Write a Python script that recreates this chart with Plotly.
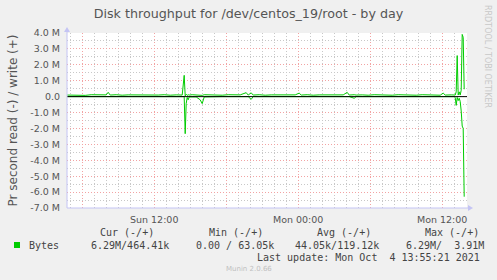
import plotly.graph_objects as go

# ---------------- data ----------------
times = [
    "2021-10-03 04:45", "2021-10-03 05:15", "2021-10-03 05:45", "2021-10-03 06:15",
    "2021-10-03 06:45", "2021-10-03 07:15", "2021-10-03 07:45", "2021-10-03 08:00",
    "2021-10-03 08:10", "2021-10-03 08:20", "2021-10-03 08:50", "2021-10-03 09:20",
    "2021-10-03 09:50", "2021-10-03 10:20", "2021-10-03 10:50", "2021-10-03 11:20",
    "2021-10-03 11:50", "2021-10-03 12:20", "2021-10-03 12:50", "2021-10-03 13:20",
    "2021-10-03 13:50", "2021-10-03 14:20", "2021-10-03 14:30", "2021-10-03 14:35",
    "2021-10-03 14:40", "2021-10-03 14:45", "2021-10-03 14:50", "2021-10-03 14:55",
    "2021-10-03 15:10", "2021-10-03 15:30", "2021-10-03 15:50", "2021-10-03 16:00",
    "2021-10-03 16:10", "2021-10-03 16:40", "2021-10-03 17:10", "2021-10-03 17:40",
    "2021-10-03 18:10", "2021-10-03 18:40", "2021-10-03 19:10", "2021-10-03 19:40",
    "2021-10-03 19:50", "2021-10-03 20:05", "2021-10-03 20:15", "2021-10-03 20:45",
    "2021-10-03 21:15", "2021-10-03 21:45", "2021-10-03 22:15", "2021-10-03 22:45",
    "2021-10-03 23:15", "2021-10-03 23:45",
    "2021-10-04 00:05", "2021-10-04 00:15", "2021-10-04 00:45", "2021-10-04 01:15",
    "2021-10-04 01:45", "2021-10-04 02:15", "2021-10-04 02:45", "2021-10-04 03:15",
    "2021-10-04 03:45", "2021-10-04 04:05", "2021-10-04 04:15", "2021-10-04 04:40",
    "2021-10-04 04:50", "2021-10-04 05:20", "2021-10-04 05:50", "2021-10-04 06:20",
    "2021-10-04 06:50", "2021-10-04 07:20", "2021-10-04 07:50", "2021-10-04 08:20",
    "2021-10-04 08:50", "2021-10-04 09:20", "2021-10-04 09:50", "2021-10-04 10:20",
    "2021-10-04 10:50", "2021-10-04 11:20", "2021-10-04 11:50", "2021-10-04 12:05",
    "2021-10-04 12:15", "2021-10-04 12:45", "2021-10-04 13:00", "2021-10-04 13:05",
    "2021-10-04 13:10", "2021-10-04 13:15", "2021-10-04 13:20", "2021-10-04 13:25",
    "2021-10-04 13:30", "2021-10-04 13:35", "2021-10-04 13:40", "2021-10-04 13:45",
    "2021-10-04 13:50",
]

# write bytes per second (M)
write_m = [
    0.10, 0.09, 0.11, 0.08, 0.12, 0.10, 0.09, 0.11,
    0.27, 0.10, 0.12, 0.09, 0.11, 0.10, 0.12, 0.09,
    0.11, 0.10, 0.12, 0.09, 0.11, 0.10, 1.34, 0.05,
    0.15, 0.08, 0.12, 0.10, 0.12, 0.09, 0.10, 0.08,
    0.12, 0.10, 0.11, 0.09, 0.12, 0.10, 0.11, 0.25,
    0.10, 0.24, 0.10, 0.12, 0.09, 0.11, 0.10, 0.12,
    0.09, 0.11,
    0.22, 0.10, 0.12, 0.09, 0.11, 0.10, 0.12, 0.09,
    0.11, 0.27, 0.10, 0.12, 0.10, 0.11, 0.09, 0.12,
    0.10, 0.11, 0.09, 0.12, 0.10, 0.11, 0.09, 0.12,
    0.10, 0.11, 0.09, 0.22, 0.10, 0.11, 0.10, 0.10,
    0.30, 2.58, 0.10, 0.30, 0.10, 0.40, 3.91, 3.73,
    0.464,
]

# read bytes per second (M), drawn downward
read_m = [
    0.00, 0.00, 0.00, 0.00, 0.00, 0.00, 0.00, 0.00,
    0.00, 0.00, 0.02, 0.00, 0.00, 0.00, 0.00, 0.00,
    0.00, 0.00, 0.00, 0.00, 0.00, 0.00, 0.00, 2.33,
    0.44, 0.05, 0.20, 0.02, 0.00, 0.02, 0.20, 0.44,
    0.02, 0.00, 0.00, 0.00, 0.00, 0.00, 0.00, 0.00,
    0.00, 0.17, 0.00, 0.00, 0.00, 0.00, 0.00, 0.00,
    0.00, 0.00,
    0.00, 0.00, 0.00, 0.00, 0.00, 0.00, 0.00, 0.00,
    0.00, 0.00, 0.00, 0.10, 0.00, 0.00, 0.00, 0.00,
    0.00, 0.00, 0.00, 0.00, 0.00, 0.00, 0.00, 0.00,
    0.00, 0.00, 0.00, 0.00, 0.00, 0.00, 0.00, 0.05,
    0.55, 0.05, 0.25, 0.10, 0.30, 0.90, 1.85, 2.00,
    6.29,
]

x_tick_vals = ["2021-10-03 06:00", "2021-10-03 12:00", "2021-10-03 18:00",
               "2021-10-04 00:00", "2021-10-04 06:00", "2021-10-04 12:00"]
x_tick_text = ["", "Sun 12:00", "", "Mon 00:00", "", "Mon 12:00"]

y_tick_vals = [4, 3, 2, 1, 0, -1, -2, -3, -4, -5, -6, -7]
y_tick_text = ["4.0 M", "3.0 M", "2.0 M", "1.0 M", "0.0", "-1.0 M", "-2.0 M",
               "-3.0 M", "-4.0 M", "-5.0 M", "-6.0 M", "-7.0 M"]

legend_headers = ["Cur (-/+)", "Min (-/+)", "Avg (-/+)", "Max (-/+)"]
legend_name = "Bytes"
legend_values = ["6.29M/464.41k", "0.00 / 63.05k", "44.05k/119.12k", "6.29M/  3.91M"]
last_update = "Last update: Mon Oct  4 13:55:21 2021"

# ---------------- figure ----------------
W, H = 497, 280
L, R, T, B = 67, 30, 33, 72
PW, PH = W - L - R, H - T - B

def px(x):
    return (x - L) / PW

def py(y):
    return (H - B - y) / PH

GREEN = "#00CC00"
fig = go.Figure()
fig.add_trace(go.Scatter(x=times, y=[-v for v in read_m], mode="lines",
                         line=dict(color=GREEN, width=1), showlegend=False,
                         hoverinfo="skip"))
fig.add_trace(go.Scatter(x=times, y=write_m, mode="lines",
                         line=dict(color=GREEN, width=1), showlegend=False,
                         hoverinfo="skip"))

MAJ = "#F2A3A3"
MIN = "#C8C8C8"
AX = "#C4C4F4"

fig.update_layout(
    width=W, height=H,
    margin=dict(l=L, r=R, t=T, b=B, pad=0),
    paper_bgcolor="#F0F0F0",
    plot_bgcolor="#FFFFFF",
    font=dict(family="DejaVu Sans", color="#555555"),
    title=dict(text="Disk throughput for /dev/centos_19/root - by day",
               x=0.5, xref="container", xanchor="center",
               y=1 - 13.5 / H, yref="container", yanchor="middle",
               font=dict(size=12.7, color="#555555", family="DejaVu Sans")),
    xaxis=dict(
        type="date",
        range=["2021-10-03 04:44", "2021-10-04 14:04"],
        tickmode="array", tickvals=x_tick_vals, ticktext=x_tick_text,
        showgrid=True, gridcolor=MAJ, gridwidth=1, griddash="1px,2px",
        minor=dict(dtick=3600000, tick0="2021-10-03 00:00", showgrid=True,
                   gridcolor=MIN, gridwidth=1, griddash="1px,2px"),
        ticks="", showline=False, zeroline=False,
        tickfont=dict(size=9.5, color="#555555"),
        ticklabelstandoff=4,
        fixedrange=True,
    ),
    yaxis=dict(
        range=[-7, 4],
        tickmode="array", tickvals=y_tick_vals, ticktext=y_tick_text,
        showgrid=True, gridcolor=MAJ, gridwidth=1, griddash="1px,2px",
        minor=dict(dtick=0.5, tick0=0, showgrid=True,
                   gridcolor=MIN, gridwidth=1, griddash="1px,2px"),
        ticks="", showline=False, zeroline=False,
        tickfont=dict(size=9.5, color="#555555"),
        ticklabelstandoff=6,
        title=dict(text="Pr second read (-) / write (+)", standoff=10,
                   font=dict(size=12, color="#555555")),
        fixedrange=True,
    ),
)

shapes = []
# zero rule on top
shapes.append(dict(type="line", xref="paper", yref="y", x0=0, x1=1, y0=0, y1=0,
                   line=dict(color="#000000", width=1), layer="above"))
# axis lines with arrows
shapes.append(dict(type="line", xref="paper", yref="paper", x0=0, x1=0,
                   y0=0, y1=py(29), line=dict(color=AX, width=1), layer="above"))
shapes.append(dict(type="line", xref="paper", yref="paper", x0=0, x1=px(471),
                   y0=0, y1=0, line=dict(color=AX, width=1), layer="above"))
shapes.append(dict(type="path", xref="paper", yref="paper",
                   path=f"M {px(64)} {py(32)} L {px(70)} {py(32)} L {px(67)} {py(27)} Z",
                   fillcolor=AX, line=dict(width=0), layer="above"))
shapes.append(dict(type="path", xref="paper", yref="paper",
                   path=f"M {px(468)} {py(205)} L {px(468)} {py(211)} L {px(473)} {py(208)} Z",
                   fillcolor=AX, line=dict(width=0), layer="above"))
# legend colour box
shapes.append(dict(type="rect", xref="paper", yref="paper",
                   x0=px(14), x1=px(20), y0=py(248), y1=py(242),
                   fillcolor=GREEN, line=dict(width=0)))
fig.update_layout(shapes=shapes)

MONO = dict(family="DejaVu Sans Mono", size=10, color="#444444")

def nb(s):
    return s.replace(" ", "\u00a0")

ann = []
def add_text(text, x, y, xanchor="left", font=MONO, angle=0):
    ann.append(dict(text=nb(text), x=px(x), y=py(y), xref="paper", yref="paper",
                    xanchor=xanchor, yanchor="middle", showarrow=False,
                    font=font, textangle=angle))

header_x = [98, 207, 315, 423]
for t, xx in zip(legend_headers, header_x):
    add_text(t, xx, 232.5)
add_text(legend_name, 27, 245)
value_x = [89, 194, 293, 404]
for t, xx in zip(legend_values, value_x):
    add_text(t, xx, 245)
add_text(last_update, 482, 257, xanchor="right")
add_text("Munin 2.0.66", 249, 269, xanchor="center",
         font=dict(family="DejaVu Sans", size=7, color="#C0C0C0"))
add_text("RRDTOOL / TOBI OETIKER", 488, 56, xanchor="center",
         font=dict(family="DejaVu Sans", size=8, color="#C8C8C8"), angle=90)
fig.update_layout(annotations=ann)

fig.write_html("out.html")
